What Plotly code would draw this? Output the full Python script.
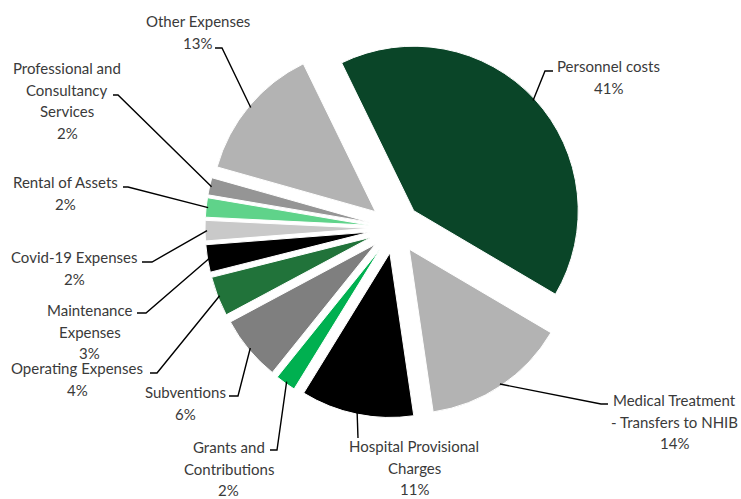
import math
import plotly.graph_objects as go

# ---------------- data ----------------
categories = [
    "Personnel costs",
    "Medical Treatment - Transfers to NHIB",
    "Hospital Provisional Charges",
    "Grants and Contributions",
    "Subventions",
    "Operating Expenses",
    "Maintenance Expenses",
    "Covid-19 Expenses",
    "Rental of Assets",
    "Professional and Consultancy Services",
    "Other Expenses",
]
values = [40.7, 14.2, 11.1, 2.0, 6.4, 3.9, 2.7, 2.0, 1.9, 1.7, 13.4]
colors = ["#0A4528", "#B3B3B3", "#000000", "#00B050", "#7F7F7F", "#21733A",
          "#000000", "#C9C9C9", "#5FD38A", "#959595", "#B3B3B3"]
label_lines = [
    ["Personnel costs"],
    ["Medical Treatment", "- Transfers to NHIB"],
    ["Hospital Provisional", "Charges"],
    ["Grants and", "Contributions"],
    ["Subventions"],
    ["Operating Expenses"],
    ["Maintenance", "Expenses"],
    ["Covid-19 Expenses"],
    ["Rental of Assets"],
    ["Professional and", "Consultancy", "Services"],
    ["Other Expenses"],
]

# ---------------- layout constants (pixels) ----------------
W, H = 741, 499
CX, CY = 395, 228          # pie centre
BOX = 190                  # half-size of the pie domain
PULL = 0.155
ROTATION = -26
LS = 21.6                  # label line spacing
FONT = dict(family="Lato, Calibri, sans-serif", size=15, color="#3A3A3A")

label_pos = [(608, 66), (674, 400), (414, 446), (229, 447), (185, 392),
             (77, 368), (89.5, 310), (74, 257), (65, 182), (67, 68), (197.5, 21)]
leader_elbows = [
    [(553, 71), (545, 71)],
    [(608, 404), (601, 404)],
    [(358, 438)],
    [(270, 450), (277, 450)],
    [(229, 396), (238, 396)],
    [(150, 373), (157, 373)],
    [(137, 313), (146, 313)],
    [(142, 262), (152, 262)],
    [(123, 187), (128, 187)],
    [(113, 95), (118, 95)],
    [(215, 48), (222, 48)],
]


def to_paper(x, y):
    return x / W, 1 - y / H


total = sum(values)
pcts = [v / total * 100 for v in values]
r = BOX / (1 + PULL)

mids = []
a = ROTATION
for v in values:
    span = v / total * 360
    mids.append(a + span / 2)
    a += span

fig = go.Figure()
fig.add_trace(go.Pie(
    labels=categories,
    values=values,
    sort=False,
    direction="clockwise",
    rotation=ROTATION,
    pull=[PULL] * len(values),
    marker=dict(colors=colors, line=dict(color="white", width=1)),
    textinfo="none",
    hoverinfo="label+percent",
    showlegend=False,
    domain=dict(x=[(CX - BOX) / W, (CX + BOX) / W],
                y=[1 - (CY + BOX) / H, 1 - (CY - BOX) / H]),
))

shapes = []
annotations = []
for i, lines in enumerate(label_lines):
    th = math.radians(mids[i])
    R = r * (1 + PULL) - 2
    sx, sy = CX + R * math.sin(th), CY - R * math.cos(th)
    pts = [(sx, sy)] + list(reversed(leader_elbows[i]))
    path = ""
    for k, (x, y) in enumerate(pts):
        px_, py_ = to_paper(x, y)
        path += ("M" if k == 0 else " L") + f" {px_:.5f} {py_:.5f}"
    shapes.append(dict(type="path", xref="paper", yref="paper", path=path,
                       line=dict(color="#000000", width=1.4)))
    all_lines = lines + [f"{round(pcts[i])}%"]
    lx, ly = label_pos[i]
    for k, t in enumerate(all_lines):
        x, y = to_paper(lx, ly + k * LS)
        annotations.append(dict(x=x, y=y, xref="paper", yref="paper", text=t,
                                showarrow=False, xanchor="center", yanchor="middle",
                                font=FONT))

fig.update_layout(
    width=W, height=H,
    margin=dict(l=0, r=0, t=0, b=0),
    paper_bgcolor="white", plot_bgcolor="white",
    shapes=shapes, annotations=annotations,
)
fig.write_html("out.html")
